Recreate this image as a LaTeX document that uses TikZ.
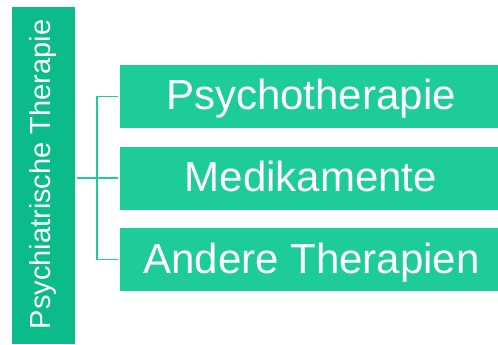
\documentclass[tikz,border=0pt]{standalone}
\usepackage{fontspec}
\setmainfont{Liberation Sans}
\usepackage{tikz}
\usepackage{xcolor}
\usetikzlibrary{positioning, calc}

\definecolor{bargreen}{RGB}{11,187,137}
\definecolor{boxgreen}{RGB}{29,204,153}

\begin{document}
\begin{tikzpicture}[
    x=1pt, y=-1pt,
    mainbar/.style={rectangle, fill=bargreen, minimum width=63pt, minimum height=337pt, inner sep=0pt, text=white, font=\fontsize{29}{34}\selectfont},
    therapy/.style={rectangle, fill=boxgreen, minimum width=378pt, minimum height=63pt, inner sep=0pt, text=white, font=\fontsize{42}{50}\selectfont, text height=27pt, text depth=0pt},
    branch/.style={draw=boxgreen, line width=1.3pt}
]
\useasboundingbox (0,0) rectangle (498,345);

% Hauptbalken links
\node[mainbar] (main) at (43.5,175.5) {\rotatebox{90}{\hspace{2pt}Psychiatrische Therapie}};

% Therapieformen
\node[therapy] (psycho) at (308.5,96.5) {\hspace{5pt}Psychotherapie};
\node[therapy] (medi) at (308.5,178) {\hspace{5pt}Medikamente};
\node[therapy] (andere) at (308.5,259.8) {\hspace{6pt}Andere Therapien};

% Verzweigung
\coordinate (split) at (97,178);
\draw[branch] ([xshift=1.5pt]main.east |- medi.west) -- ([xshift=-1.5pt]medi.west);
\draw[branch] ([xshift=-1.5pt]psycho.west) -- (split |- psycho.west) -- (split |- andere.west) -- ([xshift=-1.5pt]andere.west);

\end{tikzpicture}
\end{document}
